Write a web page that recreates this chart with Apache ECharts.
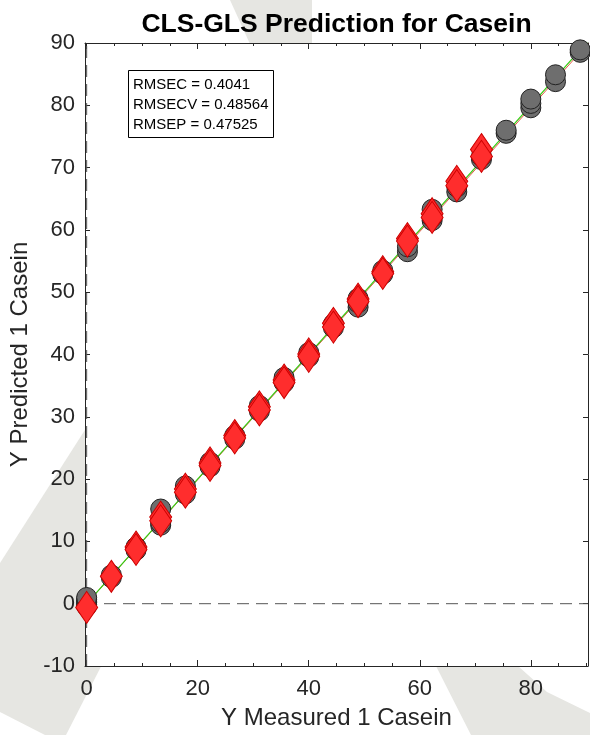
<!DOCTYPE html>
<html>
<head>
<meta charset="utf-8">
<script src="https://cdn.jsdelivr.net/npm/echarts@6/dist/echarts.min.js"></script>
<style>
html,body{margin:0;padding:0;background:#fff;}
#chart{width:590px;height:735px;}
</style>
</head>
<body>
<div id="chart"></div>
<script>
// ---------- data ----------
const titleText = 'CLS-GLS Prediction for Casein';
const xAxisName = 'Y Measured 1 Casein';
const yAxisName = 'Y Predicted 1 Casein';
const statsLines = ['RMSEC = 0.4041', 'RMSECV = 0.48564', 'RMSEP = 0.47525'];

const xTickLabels = [0, 20, 40, 60, 80];
const xTickMinor = [0, 5, 10, 15, 20, 25, 30, 35, 40, 45, 50, 55, 60, 65, 70, 75, 80, 85, 90];
const xRange = [-0.3, 90.3];
const yRange = [-10, 90];

// calibration samples (grey circles)
const calMeasured = [0,0,0,0,0,0, 4.444,4.444, 8.889,8.889, 13.333,13.333,13.333, 17.778,17.778,
  22.222,22.222, 26.667,26.667, 31.111,31.111, 35.556,35.556, 40,40, 44.444,44.444,
  48.889,48.889,48.889, 53.333,53.333, 57.778,57.778, 62.222,62.222,62.222, 66.667,66.667,
  71.111,71.111, 75.556,75.556, 80,80,80, 84.444,84.444, 88.889,88.889];
const calPredicted = [-0.4,-0.1,0.2,0.4,0.7,1.0, 4.2,4.6, 8.6,9.1, 12.6,13.0,15.2, 17.6,18.9,
  22.0,22.7, 26.4,27.0, 30.9,31.8, 35.5,36.3, 39.6,40.3, 44.3,44.9,
  47.6,48.3,49.0, 52.9,53.5, 56.5,57.3, 61.5,62.0,63.3, 66.1,66.9,
  71.3,71.8, 75.5,76.0, 79.6,80.3,81.0, 83.8,84.9, 88.5,88.9];

// validation / prediction samples (red diamonds)
const valMeasured = [0, 4.444, 8.889,8.889, 13.333,13.333, 17.778,17.778, 22.222,22.222,
  26.667,26.667, 31.111,31.111, 35.556,35.556, 40,40, 44.444,44.444, 48.889,48.889,
  53.333,53.333, 57.778,57.778, 62.222,62.222, 66.667,66.667, 71.111,71.111];
const valPredicted = [-0.6, 4.4, 9.1,8.7, 13.9,13.3, 18.4,17.9, 22.6,22.2,
  27.0,26.6, 31.6,31.1, 35.9,35.5, 40.1,39.7, 45.0,44.4, 48.9,48.5,
  53.3,53.0, 58.6,58.2, 62.6,62.0, 67.8,67.1, 72.9,71.8];

// reference lines
const idealLineX = [0, 90.3];
const idealLineY = [0, 90.3];
const fitLineX = [0, 90.3];
const fitLineY = [0.0, 89.9];
const zeroV = [[0, -10], [0, 90]];
const zeroH = [[-0.3, 0], [90.3, 0]];

// ---------- chart ----------
const FONT = '"Liberation Sans", Arial, Helvetica, sans-serif';
const TXT = '#262626';
const chart = echarts.init(document.getElementById('chart'), null, {renderer: 'canvas'});

const zip = (a, b) => a.map((v, i) => [v, b[i]]);
const GRID = {left: 85, right: 2, top: 43, bottom: 66};
const plotCX = GRID.left + (590 - GRID.left - GRID.right) / 2;

const wm = '#e6e6e2';
const lineAx = {show: true, onZero: false, lineStyle: {color: '#262626', width: 1}};
const noLineAx = {show: false, onZero: false};
const option = {
  backgroundColor: '#ffffff',
  animation: false,
  grid: Object.assign({show: true, backgroundColor: '#ffffff', borderWidth: 0, containLabel: false}, GRID),
  xAxis: [
    {type: 'value', position: 'bottom', min: xRange[0], max: xRange[1],
     name: xAxisName, nameLocation: 'middle', nameGap: 40,
     nameTextStyle: {fontFamily: FONT, fontSize: 24, color: TXT},
     axisLine: lineAx,
     axisTick: {show: true, inside: true, length: 3, customValues: xTickMinor, lineStyle: {color: '#262626'}},
     axisLabel: {show: true, customValues: xTickLabels, fontFamily: FONT, fontSize: 22, color: TXT, margin: 12},
     splitLine: {show: false}},
    {type: 'value', position: 'bottom', min: xRange[0], max: xRange[1],
     axisLine: noLineAx,
     axisTick: {show: true, inside: true, length: 6, customValues: xTickLabels, lineStyle: {color: '#262626'}},
     axisLabel: {show: false}, splitLine: {show: false}},
    {type: 'value', position: 'top', min: xRange[0], max: xRange[1],
     axisLine: lineAx,
     axisTick: {show: true, inside: true, length: 3, customValues: xTickMinor, lineStyle: {color: '#262626'}},
     axisLabel: {show: false}, splitLine: {show: false}},
    {type: 'value', position: 'top', min: xRange[0], max: xRange[1],
     axisLine: noLineAx,
     axisTick: {show: true, inside: true, length: 6, customValues: xTickLabels, lineStyle: {color: '#262626'}},
     axisLabel: {show: false}, splitLine: {show: false}}
  ],
  yAxis: [
    {type: 'value', position: 'left', min: yRange[0], max: yRange[1], interval: 10,
     name: yAxisName, nameLocation: 'middle', nameGap: 53,
     nameTextStyle: {fontFamily: FONT, fontSize: 24, color: TXT},
     axisLine: lineAx,
     axisTick: {show: true, inside: true, length: 5, lineStyle: {color: '#262626'}},
     axisLabel: {show: true, fontFamily: FONT, fontSize: 22, color: TXT, margin: 10},
     splitLine: {show: false}},
    {type: 'value', position: 'right', min: yRange[0], max: yRange[1], interval: 10,
     axisLine: lineAx,
     axisTick: {show: true, inside: true, length: 5, lineStyle: {color: '#262626'}},
     axisLabel: {show: false}, splitLine: {show: false}}
  ],
  graphic: [
    // background watermark shapes
    {type: 'polygon', z: -100, silent: true, shape: {points: [[90,422],[0,563],[0,712],[45,735],[66,735],[112,645]]}, style: {fill: wm}},
    {type: 'polygon', z: -100, silent: true, shape: {points: [[230,0],[312,0],[312,44],[250,44]]}, style: {fill: wm}},
    {type: 'polygon', z: -100, silent: true, shape: {points: [[436,666],[518,666],[547,692],[590,713],[590,735],[471,735]]}, style: {fill: wm}},
    // title
    {type: 'text', z: 50, x: plotCX, y: 25, style: {text: titleText, font: 'bold 26.5px ' + FONT, fill: '#000', align: 'center', verticalAlign: 'middle'}},
    // stats box
    {type: 'rect', z: 50, shape: {x: 128.5, y: 70.5, width: 145, height: 67}, style: {fill: '#fff', stroke: '#000', lineWidth: 1}},
    {type: 'text', z: 51, x: 133, y: 85, style: {text: statsLines[0], font: '15px ' + FONT, fill: '#000', verticalAlign: 'middle'}},
    {type: 'text', z: 51, x: 133, y: 105, style: {text: statsLines[1], font: '15px ' + FONT, fill: '#000', verticalAlign: 'middle'}},
    {type: 'text', z: 51, x: 133, y: 125, style: {text: statsLines[2], font: '15px ' + FONT, fill: '#000', verticalAlign: 'middle'}}
  ],
  series: [
    {type: 'line', name: 'zeroV', data: zeroV, symbol: 'none', z: 2, silent: true,
     lineStyle: {color: '#555555', width: 1, type: [12, 7]}},
    {type: 'line', name: 'zeroH', data: zeroH, symbol: 'none', z: 2, silent: true,
     lineStyle: {color: '#555555', width: 1, type: [12, 7]}},
    {type: 'line', name: 'fit', data: zip(fitLineX, fitLineY), symbol: 'none', z: 3, silent: true,
     lineStyle: {color: '#e0301e', width: 0.8}},
    {type: 'line', name: 'ideal', data: zip(idealLineX, idealLineY), symbol: 'none', z: 3, silent: true,
     lineStyle: {color: '#33cc11', width: 1.2}},
    {type: 'scatter', name: 'Calibration', data: zip(calMeasured, calPredicted), z: 4,
     symbol: 'circle', symbolSize: 20,
     itemStyle: {color: '#6e6e6e', borderColor: '#222222', borderWidth: 1, opacity: 1}},
    {type: 'scatter', name: 'Prediction', data: zip(valMeasured, valPredicted), z: 5,
     symbol: 'diamond', symbolSize: [22, 32],
     itemStyle: {color: '#ff2d2d', borderColor: '#cc0000', borderWidth: 1, opacity: 1}}
  ]
};
chart.setOption(option);
</script>
</body>
</html>
